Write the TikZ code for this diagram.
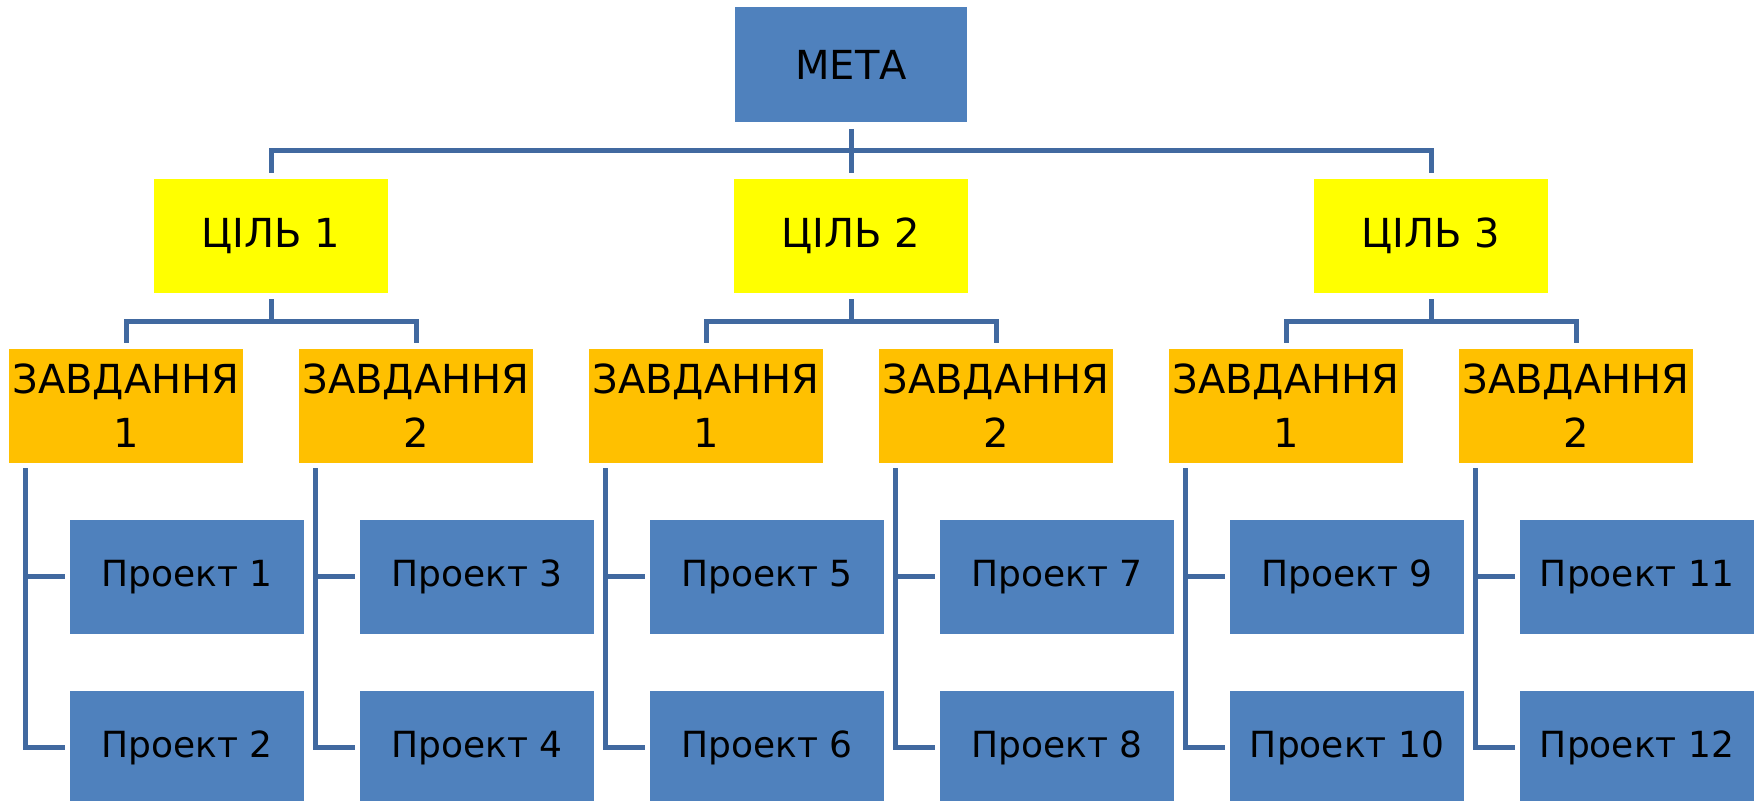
\documentclass[tikz,border=0pt]{standalone}
\usepackage{fontspec}
\setmainfont{DejaVu Sans}

\definecolor{boxblue}{HTML}{4F81BD}
\definecolor{linkblue}{HTML}{4169A0}
\definecolor{goalyellow}{HTML}{FFFF00}
\definecolor{taskorange}{HTML}{FFC000}

\tikzset{
  box/.style={minimum width=117pt, minimum height=57pt, inner sep=0pt,
    align=center, font=\fontsize{20}{27}\selectfont},
  metabox/.style={box, fill=boxblue, minimum width=116pt, minimum height=57.5pt},
  goalbox/.style={box, fill=goalyellow},
  taskbox/.style={box, fill=taskorange},
  projbox/.style={box, fill=boxblue, font=\fontsize{18}{22}\selectfont},
  link/.style={draw=linkblue, line width=2.5pt}
}

\begin{document}
\begin{tikzpicture}[x=0.5pt, y=-0.5pt]
\useasboundingbox (0,0) rectangle (1763,801);

% Top level
\node[metabox] (meta) at (851,65) {МЕТА};

% Goals
\node[goalbox] (goal1) at (271,236) {ЦІЛЬ 1};
\node[goalbox] (goal2) at (851,236) {ЦІЛЬ 2};
\node[goalbox] (goal3) at (1431,236) {ЦІЛЬ 3};

% Tasks
\node[taskbox] (task1) at (126,406) {ЗАВДАННЯ\\1};
\node[taskbox] (task2) at (416,406) {ЗАВДАННЯ\\2};
\node[taskbox] (task3) at (706,406) {ЗАВДАННЯ\\1};
\node[taskbox] (task4) at (996,406) {ЗАВДАННЯ\\2};
\node[taskbox] (task5) at (1286,406) {ЗАВДАННЯ\\1};
\node[taskbox] (task6) at (1576,406) {ЗАВДАННЯ\\2};

% Projects
\node[projbox] (proj1) at (187,577) {Проект 1};
\node[projbox] (proj2) at (187,748) {Проект 2};
\node[projbox] (proj3) at (477,577) {Проект 3};
\node[projbox] (proj4) at (477,748) {Проект 4};
\node[projbox] (proj5) at (767,577) {Проект 5};
\node[projbox] (proj6) at (767,748) {Проект 6};
\node[projbox] (proj7) at (1057,577) {Проект 7};
\node[projbox] (proj8) at (1057,748) {Проект 8};
\node[projbox] (proj9) at (1347,577) {Проект 9};
\node[projbox] (proj10) at (1347,748) {Проект 10};
\node[projbox] (proj11) at (1637,577) {Проект 11};
\node[projbox] (proj12) at (1637,748) {Проект 12};

% Meta to goals
\coordinate (mbar) at (851,151);
\draw[link] ([yshift=-3pt]meta.south) -- ([yshift=3pt]goal2.north);
\draw[link] ([yshift=3pt]goal1.north) |- (mbar) -| ([yshift=3pt]goal3.north);

% Goals to tasks
\coordinate (gbar1) at (271,322);
\coordinate (gbar2) at (851,322);
\coordinate (gbar3) at (1431,322);
\draw[link] ([yshift=-3pt]goal1.south) -- (gbar1);
\draw[link] ([yshift=3pt]task1.north) |- (gbar1) -| ([yshift=3pt]task2.north);
\draw[link] ([yshift=-3pt]goal2.south) -- (gbar2);
\draw[link] ([yshift=3pt]task3.north) |- (gbar2) -| ([yshift=3pt]task4.north);
\draw[link] ([yshift=-3pt]goal3.south) -- (gbar3);
\draw[link] ([yshift=3pt]task5.north) |- (gbar3) -| ([yshift=3pt]task6.north);

% Tasks to projects
\coordinate (v1) at ([xshift=8.5pt,yshift=-2.5pt]task1.south west);
\draw[link] (v1) |- ([xshift=-2.5pt]proj2.west);
\draw[link] (v1 |- proj1.west) -- ([xshift=-2.5pt]proj1.west);

\coordinate (v2) at ([xshift=8.5pt,yshift=-2.5pt]task2.south west);
\draw[link] (v2) |- ([xshift=-2.5pt]proj4.west);
\draw[link] (v2 |- proj3.west) -- ([xshift=-2.5pt]proj3.west);

\coordinate (v3) at ([xshift=8.5pt,yshift=-2.5pt]task3.south west);
\draw[link] (v3) |- ([xshift=-2.5pt]proj6.west);
\draw[link] (v3 |- proj5.west) -- ([xshift=-2.5pt]proj5.west);

\coordinate (v4) at ([xshift=8.5pt,yshift=-2.5pt]task4.south west);
\draw[link] (v4) |- ([xshift=-2.5pt]proj8.west);
\draw[link] (v4 |- proj7.west) -- ([xshift=-2.5pt]proj7.west);

\coordinate (v5) at ([xshift=8.5pt,yshift=-2.5pt]task5.south west);
\draw[link] (v5) |- ([xshift=-2.5pt]proj10.west);
\draw[link] (v5 |- proj9.west) -- ([xshift=-2.5pt]proj9.west);

\coordinate (v6) at ([xshift=8.5pt,yshift=-2.5pt]task6.south west);
\draw[link] (v6) |- ([xshift=-2.5pt]proj12.west);
\draw[link] (v6 |- proj11.west) -- ([xshift=-2.5pt]proj11.west);

\end{tikzpicture}
\end{document}
